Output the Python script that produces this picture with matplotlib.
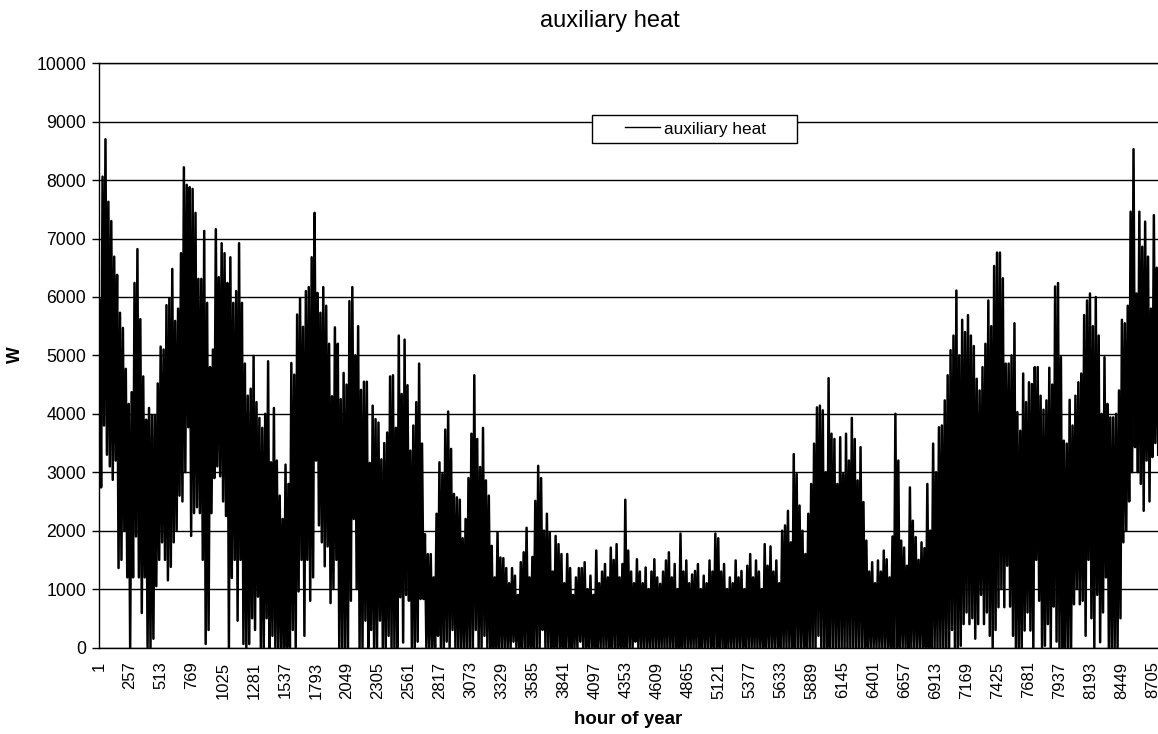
import matplotlib
matplotlib.use("Agg")
import matplotlib.pyplot as plt
from matplotlib.lines import Line2D
from matplotlib.patches import Rectangle

# ---------------- data ----------------
# daily peak of the hourly auxiliary heat [W], day 0 .. 364
daily_peak = [
    5950, 8060, 8700, 7630, 7300, 6690, 6380, 5730, 5470, 4770,
    4170, 4370, 6240, 6820, 5620, 4640, 3900, 4100, 3980, 3980,
    4520, 5150, 5100, 5860, 5980, 6480, 5590, 5800, 6750, 8220,
    7920, 7880, 7850, 7440, 6310, 6310, 7130, 5900, 4800, 5100,
    7160, 6340, 6920, 6750, 6240, 6680, 5900, 6100, 6920, 5900,
    4860, 4310, 4430, 4990, 4200, 3930, 3760, 4000, 4900, 3170,
    4100, 3200, 2600, 2200, 3130, 2800, 4870, 4670, 5700, 5980,
    5490, 6100, 6170, 6680, 7440, 6070, 5730, 6170, 5850, 5200,
    4300, 5480, 5200, 4250, 4700, 4500, 5930, 6170, 5000, 5500,
    4410, 4550, 4550, 3160, 4140, 3910, 3850, 3220, 3500, 3680,
    4640, 4660, 3760, 5340, 4340, 5270, 4490, 3370, 3800, 4200,
    4860, 3490, 1940, 1600, 1600, 1200, 2290, 3170, 2970, 3730,
    4040, 3400, 2630, 2570, 2530, 1870, 2200, 2900, 3660, 4660,
    3570, 3090, 3760, 2860, 2600, 1740, 1200, 1970, 1540, 1530,
    1360, 1100, 1360, 1230, 900, 1460, 1630, 2050, 1200, 1550,
    2510, 3110, 2900, 2000, 2290, 1970, 1300, 1910, 1770, 1600,
    1100, 1600, 1360, 900, 1200, 1360, 1360, 1460, 1000, 1230,
    900, 1660, 1100, 1300, 1430, 1200, 1710, 1500, 1770, 1200,
    1430, 2530, 1660, 1300, 1100, 1510, 1300, 1100, 1370, 1000,
    1300, 1510, 1200, 1090, 1300, 1490, 1630, 1200, 1430, 1000,
    1950, 1300, 1490, 1100, 1250, 1310, 1430, 1000, 1230, 1100,
    1490, 1300, 1950, 1870, 1300, 1430, 1000, 1200, 1100, 1490,
    1200, 1310, 1000, 1400, 1600, 1200, 1490, 1300, 1000, 1770,
    1400, 1730, 1300, 1490, 1100, 2000, 2090, 2340, 1800, 3310,
    2970, 2430, 2000, 1600, 2290, 2800, 3490, 4110, 4140, 4060,
    3000, 4610, 3660, 3570, 2800, 3600, 2970, 3660, 3200, 3930,
    3570, 2860, 3430, 2490, 1830, 1300, 1460, 1100, 1490, 1300,
    1660, 1510, 1200, 1900, 4000, 3200, 1830, 1710, 1400, 2740,
    2170, 1890, 1500, 1800, 1700, 2800, 2000, 3490, 3000, 3770,
    3800, 4230, 4660, 5090, 5340, 6110, 5000, 5610, 5400, 5690,
    5340, 5160, 4600, 4400, 4800, 5200, 5940, 5500, 6530, 6760,
    6760, 6320, 4860, 4860, 5000, 5550, 4030, 3710, 4690, 4200,
    4540, 4510, 4800, 4800, 4310, 4070, 4230, 4790, 4500, 6180,
    6240, 4970, 3540, 3490, 4240, 3800, 4310, 4540, 4690, 5690,
    5940, 6060, 5500, 6000, 5340, 4000, 4970, 4170, 3940, 3940,
    4000, 4400, 5610, 5550, 5850, 7460, 8530, 6060, 7460, 6860,
    7290, 6690, 5800, 7400, 6500,
]

# daily minimum of the hourly auxiliary heat [W], day 0 .. 364
daily_low = [
    2740, 3800, 3300, 3100, 2870, 3200, 1360, 1500, 2000, 1200,
    0, 1200, 1900, 1200, 590, 1200, 0, 0, 150, 1050,
    1500, 1800, 1500, 1150, 1380, 1800, 2000, 2600, 2500, 3000,
    3770, 1910, 2300, 2400, 2300, 1500, 60, 300, 2300, 2900,
    3100, 2930, 2500, 2250, 0, 1190, 1500, 460, 1500, 60,
    0, 60, 500, 300, 870, 0, 0, 500, 0, 200,
    0, 0, 0, 0, 0, 0, 300, 0, 960, 1500,
    200, 1500, 800, 1200, 3200, 2090, 1800, 1390, 1730, 760,
    1000, 1500, 0, 0, 0, 0, 800, 2200, 1000, 0,
    0, 460, 0, 300, 0, 0, 460, 0, 0, 200,
    0, 0, 0, 860, 85, 900, 800, 0, 0, 100,
    830, 830, 0, 0, 0, 0, 200, 0, 0, 100,
    0, 300, 0, 0, 0, 0, 0, 0, 0, 300,
    0, 0, 200, 0, 0, 0, 0, 0, 0, 0,
    0, 0, 100, 0, 0, 0, 0, 0, 0, 0,
    0, 0, 300, 0, 0, 0, 0, 0, 0, 0,
    0, 0, 0, 0, 0, 100, 0, 0, 0, 0,
    0, 0, 0, 0, 0, 0, 0, 0, 0, 0,
    0, 0, 0, 0, 100, 0, 0, 0, 0, 0,
    0, 0, 0, 0, 0, 0, 0, 0, 0, 0,
    0, 0, 0, 0, 0, 0, 0, 0, 0, 0,
    0, 0, 0, 0, 0, 0, 0, 0, 0, 0,
    0, 0, 0, 0, 0, 0, 0, 0, 0, 0,
    0, 0, 0, 0, 0, 0, 0, 0, 0, 0,
    0, 0, 0, 0, 0, 0, 0, 200, 0, 0,
    0, 0, 0, 0, 0, 0, 0, 0, 0, 0,
    0, 0, 0, 0, 0, 0, 0, 0, 0, 0,
    0, 0, 0, 0, 0, 0, 0, 0, 0, 0,
    0, 0, 0, 0, 0, 0, 0, 0, 0, 0,
    0, 0, 0, 300, 0, 0, 30, 400, 600, 400,
    500, 150, 400, 900, 400, 600, 200, 0, 300, 690,
    1000, 690, 1400, 700, 200, 0, 0, 0, 290, 600,
    290, 0, 1500, 800, 0, 30, 400, 0, 700, 100,
    0, 0, 0, 0, 0, 740, 1000, 740, 800, 200,
    1500, 500, 0, 900, 90, 600, 1200, 0, 0, 0,
    0, 500, 1800, 2000, 2500, 3000, 3430, 3000, 2800, 2340,
    3200, 2500, 3260, 3500, 3300,
]

x_tick_labels = [str(h) for h in range(1, 8761, 256)]
y_ticks = list(range(0, 10001, 1000))
series_name = "auxiliary heat"

# ---------------- build hourly line (one peak and one low per day) ----------------
hours, values = [], []
for d, (pk, lo) in enumerate(zip(daily_peak, daily_low)):
    b = 24 * d
    hours += [b + 6, b + 18]
    values += [pk, lo]

# ---------------- figure ----------------
W, H = 1158, 734
plt.rcParams["font.family"] = ["Liberation Sans", "DejaVu Sans"]
fig = plt.figure(figsize=(W / 100, H / 100), dpi=100)
fig.patch.set_facecolor("white")

left_px, right_px, top_px, bot_px = 99.0, 1159.0, 63.3, 647.5
ax = fig.add_axes([left_px / W, 1 - bot_px / H,
                   (right_px - left_px) / W, (bot_px - top_px) / H])

ax.plot(hours, values, color="black", lw=1.8, solid_joinstyle="round")

ax.set_xlim(0.5, 8760.5)
ax.set_ylim(0, 10000)

ax.set_yticks(y_ticks)
ax.set_yticklabels([str(v) for v in y_ticks])
ax.tick_params(axis="y", direction="out", length=5, width=1.0,
               pad=4.3, labelsize=12.7, colors="black")

ax.set_xticks([int(s) for s in x_tick_labels])
ax.set_xticklabels(x_tick_labels, rotation=90)
ax.tick_params(axis="x", length=0, pad=10, labelsize=12, colors="black")

ax.yaxis.grid(True, color="black", lw=1.0)
ax.xaxis.grid(False)

for side in ("left", "bottom", "top"):
    ax.spines[side].set_color("black")
    ax.spines[side].set_linewidth(1.0)
ax.spines["right"].set_visible(False)

# texts
fig.text(609.5 / W, 1 - 27.3 / H, "auxiliary heat", ha="center",
         va="baseline", fontsize=17, color="black")
fig.text(628 / W, 1 - 719 / H, "hour of year", ha="center", va="center",
         fontsize=13.5, fontweight="bold", color="black")
fig.text(15.5 / W, 1 - 355 / H, "W", ha="center", va="center",
         rotation=90, fontsize=12.7, fontweight="bold", color="black")

# legend (frame drawn as a figure rectangle)
box = Rectangle((592 / W, 1 - 143 / H), 205 / W, 28 / H,
                transform=fig.transFigure, facecolor="white",
                edgecolor="black", lw=1.0, zorder=4)
fig.patches.append(box)
handle = Line2D([], [], color="black", lw=1.0)
leg = fig.legend([handle], [series_name], loc="center",
                 bbox_to_anchor=(695.5 / W, 1 - 129 / H), frameon=False,
                 fontsize=12.4, handlelength=2.06, handletextpad=0.25,
                 borderpad=0.2)
leg.set_zorder(5)

fig.savefig("out.png", dpi=100, facecolor="white")
